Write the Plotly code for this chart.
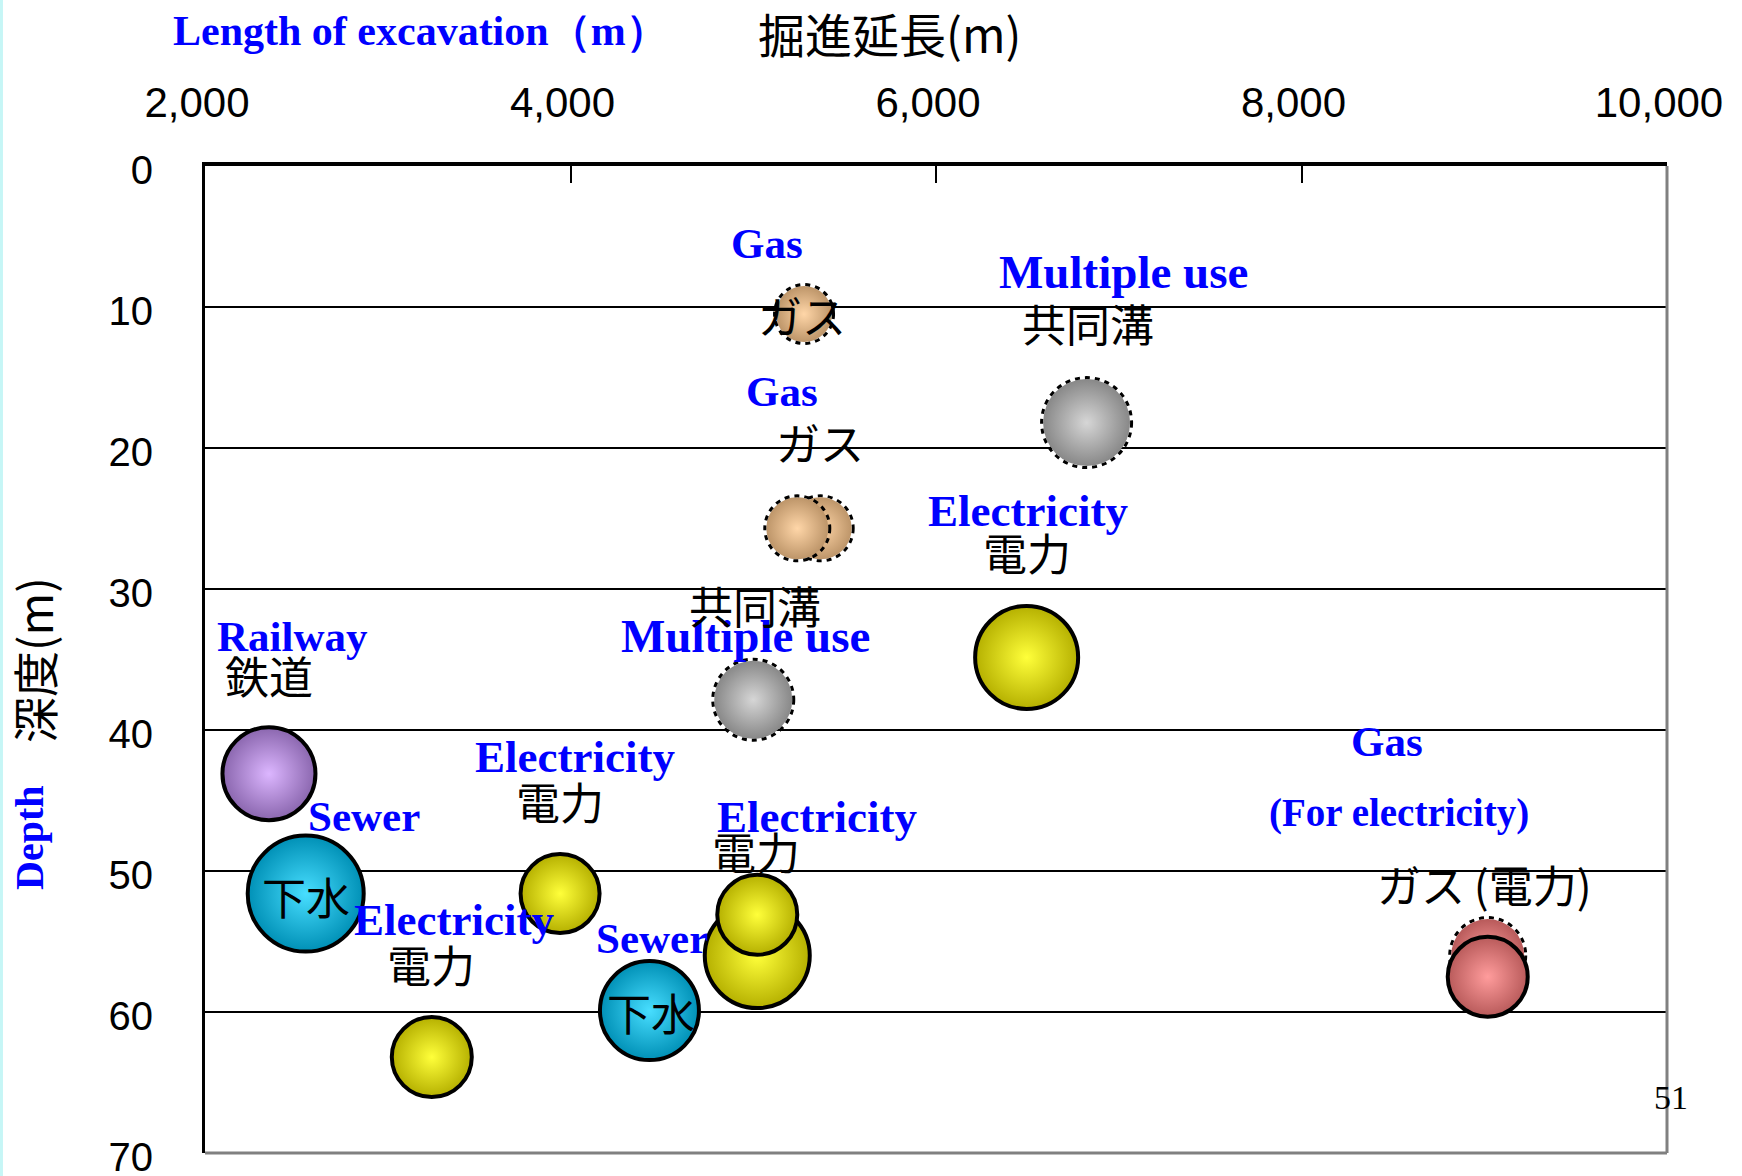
import plotly.graph_objects as go

# ---------------- data ----------------
# bubbles, in drawing order (later ones are drawn on top)
bubble_kind = ["gas", "multi", "gas", "gas", "elec", "multi", "rail", "sewer",
               "elec", "elec", "elec", "sewer", "elec", "gaselec", "gaselec"]
bubble_x = [5278, 6824, 5369, 5241, 6496, 5000, 2350, 2551,
            3943, 5022, 5022, 4432, 3241, 9019, 9019]
bubble_y = [10.5, 18.2, 25.7, 25.7, 34.85, 37.85, 43.1, 51.6,
            51.6, 56.0, 53.1, 59.9, 63.2, 56.0, 57.5]
bubble_size = [62, 93, 68, 68, 107, 84, 97, 120,
               83, 109, 84, 103, 84, 79, 84]
bubble_dashed = [True, True, True, True, False, True, False, False,
                 False, False, False, False, False, True, False]
# dashed bubbles that sit behind another bubble
bubble_behind = [False, False, True, False, False, False, False, False,
                 False, False, False, False, False, True, False]

kind_outer = {"gas": "#bd9569", "multi": "#888888", "elec": "#b5b000",
              "rail": "#8a66ae", "sewer": "#0090b6", "gaselec": "#b85a5a"}
kind_inner = {"gas": "#ffd6a8", "multi": "#d6d6d6", "elec": "#ffff3a",
              "rail": "#dcb6ff", "sewer": "#48deff", "gaselec": "#ff9c9c"}

# English labels (blue)
en_text = ["Gas", "Multiple use", "Gas", "Electricity", "Multiple use", "Railway",
           "Electricity", "Sewer", "Electricity", "Electricity", "Sewer",
           "Gas", "(For electricity)"]
en_x = [5073, 7024, 5160, 6505, 4958, 2479, 4026, 2869, 5347, 3360, 4446, 8470, 8532]
en_y = [5.5, 7.5, 16.0, 24.5, 33.3, 33.4, 41.9, 46.1, 46.2, 53.5, 54.8, 40.8, 45.9]

# Japanese labels (black)
ja_text = ["ガス", "共同溝", "ガス", "電力", "共同溝", "鉄道", "電力", "電力",
           "下水", "電力", "下水", "ガス\u2009(電力)"]
ja_x = [5265, 6829, 5365, 6496, 5012, 2350, 3941, 5013, 2551, 3237, 4440, 9002]
ja_y = [10.6, 11.1, 19.6, 27.4, 31.15, 36.1, 45.0, 48.55, 51.8, 56.6, 60.0, 50.9]

x_ticks = [2000, 4000, 6000, 8000, 10000]
x_range = [2000, 10000]
y_range = [70, 0]

JA_FONT = "Noto Sans CJK JP, Noto Sans, sans-serif"
EN_FONT = "Liberation Serif, Times New Roman, serif"
NUM_FONT = "Liberation Sans, Arial, sans-serif"
EN_SIZE = {"Electricity": 45, "Multiple use": 47, "(For electricity)": 39}

# ---------------- figure ----------------
fig = go.Figure()

fig.add_trace(go.Scatter(
    x=bubble_x, y=bubble_y, mode="markers",
    marker=dict(
        size=[s - 6 if d else s - 4 for s, d in zip(bubble_size, bubble_dashed)],
        color=[kind_outer[k] for k in bubble_kind],
        gradient=dict(type="radial", color=[kind_inner[k] for k in bubble_kind]),
        line=dict(color="black", width=[0 if d else 4 for d in bubble_dashed]),
        opacity=1,
    ),
    hoverinfo="x+y", showlegend=False, cliponaxis=False,
))

shapes = []
# dashed outlines for the dashed bubbles
for x, y, s, d, b in zip(bubble_x, bubble_y, bubble_size, bubble_dashed, bubble_behind):
    if d:
        r = (s - 3) / 2
        shapes.append(dict(type="circle", xref="x", yref="y", xsizemode="pixel",
                           ysizemode="pixel", xanchor=x, yanchor=y,
                           x0=-r, x1=r, y0=-r, y1=r,
                           line=dict(color="black", width=3, dash="5px,5px"),
                           layer="below" if b else "above"))
# right and bottom grey frame
shapes.append(dict(type="line", xref="paper", yref="paper", x0=1, x1=1, y0=0, y1=1,
                   line=dict(color="#808080", width=3), layer="above"))
shapes.append(dict(type="line", xref="paper", yref="paper", x0=0, x1=1, y0=0, y1=0,
                   line=dict(color="#808080", width=3), layer="above"))
# light cyan strip at left edge of page
shapes.append(dict(type="rect", xref="paper", yref="paper", x0=-0.1403, x1=-0.1382,
                   y0=-0.03, y1=1.2, line=dict(width=0), fillcolor="#c6f6f6",
                   layer="below"))

annotations = []
for t, x, y in zip(en_text, en_x, en_y):
    annotations.append(dict(text="<b>%s</b>" % t, x=x, y=y, xref="x", yref="y",
                            showarrow=False, xanchor="center", yanchor="middle",
                            font=dict(family=EN_FONT, size=EN_SIZE.get(t, 43),
                                      color="#0000ff")))
for t, x, y in zip(ja_text, ja_x, ja_y):
    annotations.append(dict(text=t, x=x, y=y, xref="x", yref="y",
                            showarrow=False, xanchor="center", yanchor="middle",
                            font=dict(family=JA_FONT, size=44, color="black")))

# axis titles
annotations += [
    dict(text="<b>Length of excavation（m）</b>", xref="paper", yref="paper",
         x=(420 - 205) / 1462, y=1 + (166 - 31) / 987, showarrow=False,
         xanchor="center", yanchor="middle",
         font=dict(family=EN_FONT, size=42, color="#0000ff")),
    dict(text="掘進延長(m)", xref="paper", yref="paper",
         x=(889 - 205) / 1462, y=1 + (166 - 33) / 987, showarrow=False,
         xanchor="center", yanchor="middle",
         font=dict(family=JA_FONT, size=47, color="black")),
    dict(text="<b>Depth</b>", xref="paper", yref="paper",
         x=(29 - 205) / 1462, y=1 - (838 - 166) / 987, showarrow=False,
         textangle=-90, xanchor="center", yanchor="middle",
         font=dict(family=EN_FONT, size=40, color="#0000ff")),
    dict(text="深度(m)", xref="paper", yref="paper",
         x=(33 - 205) / 1462, y=1 - (660 - 166) / 987, showarrow=False,
         textangle=-90, xanchor="center", yanchor="middle",
         font=dict(family=JA_FONT, size=46, color="black")),
    dict(text="51", xref="paper", yref="paper",
         x=(1671 - 205) / 1462, y=1 - (1097 - 166) / 987, showarrow=False,
         xanchor="center", yanchor="middle",
         font=dict(family=EN_FONT, size=34, color="black")),
]

fig.update_layout(
    width=1742, height=1176,
    margin=dict(l=205, r=75, t=166, b=23, pad=0),
    paper_bgcolor="white", plot_bgcolor="white",
    showlegend=False,
    shapes=shapes, annotations=annotations,
    xaxis=dict(
        range=x_range, side="top", tickvals=x_ticks, tickformat=",d",
        showgrid=False, zeroline=False, automargin=False,
        showline=True, linecolor="black", linewidth=4,
        ticks="inside", ticklen=17, tickwidth=2, tickcolor="black",
        ticklabelstandoff=28, ticklabelshift=-8,
        tickfont=dict(family=NUM_FONT, size=42, color="black"),
    ),
    yaxis=dict(
        range=y_range, dtick=10, tick0=0, automargin=False,
        showgrid=True, gridcolor="black", gridwidth=2, zeroline=False,
        showline=True, linecolor="black", linewidth=3,
        ticks="", ticklabelstandoff=41, ticklabelshift=-4,
        ticklabeloverflow="allow",
        tickfont=dict(family=NUM_FONT, size=40, color="black"),
    ),
)

fig.write_html("out.html", config={"displayModeBar": False},
               post_script="document.body.style.margin='0';document.body.style.overflow='hidden';")
